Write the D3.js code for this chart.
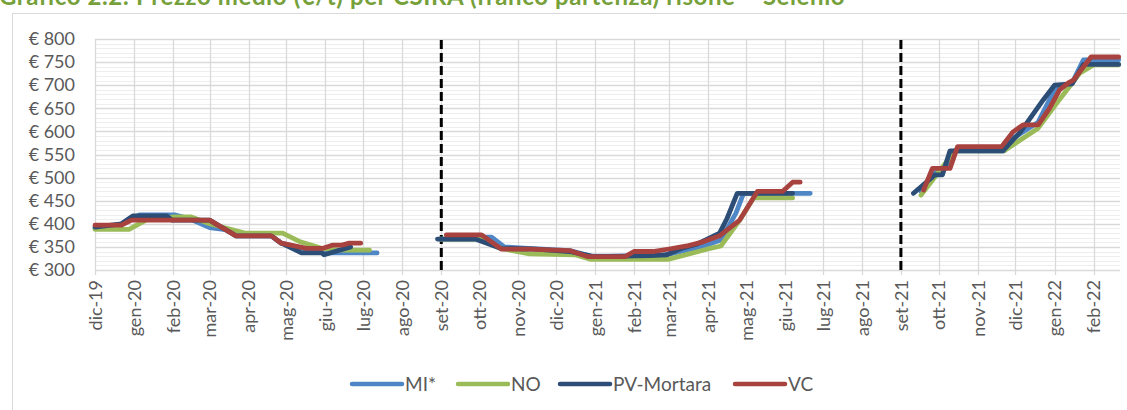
<!DOCTYPE html>
<meta charset="utf-8" />
<style>
    body { margin: 0; background: #fff; }
    text { font-family: Lato, sans-serif; fill: #595959; }
    .title { font-weight: bold; fill: #76a03a; }
    .series { fill: none; stroke-width: 4.8; stroke-linejoin: round; stroke-linecap: round; }
</style>
<svg width="1127" height="410"></svg>
<script src="https://d3js.org/d3.v7.min.js"></script>
<script>
// categories / ticks
const monthLabels = ['dic-19', 'gen-20', 'feb-20', 'mar-20', 'apr-20', 'mag-20', 'giu-20', 'lug-20', 'ago-20',
    'set-20', 'ott-20', 'nov-20', 'dic-20', 'gen-21', 'feb-21', 'mar-21', 'apr-21', 'mag-21', 'giu-21',
    'lug-21', 'ago-21', 'set-21', 'ott-21', 'nov-21', 'dic-21', 'gen-22', 'feb-22'];
const yTicks = [300, 350, 400, 450, 500, 550, 600, 650, 700, 750, 800];
const seriesNames = ['MI*', 'NO', 'PV-Mortara', 'VC'];
const dividerDates = ['2020-09-01', '2021-09-01'];

// weekly prices (€/t); null = no quotation (gap)
const miValues = [
    ['2019-12-01', 390], ['2019-12-22', 398], ['2020-01-05', 419], ['2020-02-03', 419], ['2020-02-15', 410],
    ['2020-03-01', 392], ['2020-03-15', 387], ['2020-03-22', 374], ['2020-04-19', 374], ['2020-04-27', 358],
    ['2020-05-17', 345], ['2020-05-31', 337], ['2020-07-12', 337], null,
    ['2020-08-31', 367], ['2020-09-28', 367], ['2020-10-05', 371], ['2020-10-11', 371], ['2020-10-21', 350],
    ['2020-11-02', 348], ['2020-12-12', 342], ['2020-12-29', 330], ['2021-02-22', 330], ['2021-03-26', 350],
    ['2021-04-11', 365], ['2021-04-23', 423], ['2021-04-29', 466], ['2021-06-21', 466], null,
    ['2021-09-17', 470], ['2021-09-26', 510], ['2021-10-04', 512], ['2021-10-14', 558], ['2021-11-22', 558],
    ['2021-11-29', 585], ['2021-12-19', 620], ['2022-01-01', 690], ['2022-01-15', 705], ['2022-01-24', 755],
    ['2022-02-21', 755]
];
const noValues = [
    ['2019-12-01', 388], ['2019-12-28', 388], ['2020-01-12', 410], ['2020-02-03', 415], ['2020-02-15', 415],
    ['2020-03-01', 400], ['2020-03-29', 380], ['2020-04-28', 380], ['2020-05-12', 361], ['2020-05-29', 347],
    ['2020-06-12', 343], ['2020-07-06', 343], null,
    ['2020-08-31', 367], ['2020-10-02', 367], ['2020-10-18', 347], ['2020-11-10', 335], ['2020-12-16', 333],
    ['2020-12-29', 323], ['2021-02-28', 323], ['2021-03-31', 345], ['2021-04-11', 352], ['2021-04-26', 408],
    ['2021-05-07', 456], ['2021-06-07', 456], null,
    ['2021-09-17', 462], ['2021-10-14', 558], ['2021-11-22', 558], ['2021-12-19', 607], ['2022-01-01', 655],
    ['2022-01-21', 726], ['2022-02-01', 744], ['2022-02-21', 744]
];
const pvValues = [
    ['2019-12-01', 393], ['2019-12-22', 400], ['2019-12-31', 417], ['2020-01-27', 417], ['2020-01-31', 408],
    ['2020-03-01', 408], ['2020-03-22', 374], ['2020-04-19', 374], ['2020-04-27', 358], ['2020-05-13', 337],
    ['2020-05-29', 337], ['2020-05-31', 333], ['2020-06-21', 350], null,
    ['2020-08-29', 367], ['2020-09-28', 367], ['2020-10-18', 347], ['2020-11-15', 345], ['2020-12-12', 340],
    ['2020-12-31', 329], ['2021-02-14', 331], ['2021-02-27', 333], ['2021-03-12', 348], ['2021-03-23', 356],
    ['2021-04-10', 380], ['2021-04-16', 412], ['2021-04-24', 466], ['2021-06-07', 466], null,
    ['2021-09-11', 466], ['2021-09-28', 506], ['2021-10-04', 506], ['2021-10-10', 558], ['2021-11-21', 558],
    ['2021-12-05', 599], ['2021-12-23', 668], ['2022-01-01', 700], ['2022-01-15', 703], ['2022-01-24', 745],
    ['2022-02-21', 745]
];
const vcValues = [
    ['2019-12-01', 397], ['2019-12-22', 397], ['2019-12-30', 408], ['2020-03-01', 408], ['2020-03-22', 374],
    ['2020-04-19', 374], ['2020-04-27', 358], ['2020-05-17', 347], ['2020-05-30', 347], ['2020-06-07', 354],
    ['2020-06-14', 354], ['2020-06-20', 358], ['2020-06-29', 358], null,
    ['2020-09-05', 376], ['2020-10-03', 376], ['2020-10-19', 345], ['2020-11-10', 345], ['2020-12-12', 342],
    ['2020-12-26', 329], ['2021-01-25', 329], ['2021-02-01', 340], ['2021-02-16', 340], ['2021-03-02', 346],
    ['2021-03-15', 352], ['2021-03-28', 361], ['2021-04-10', 374], ['2021-04-26', 408], ['2021-05-10', 470],
    ['2021-05-30', 470], ['2021-06-07', 490], ['2021-06-13', 490], null,
    ['2021-09-19', 473], ['2021-09-26', 520], ['2021-10-10', 520], ['2021-10-16', 567], ['2021-11-20', 567],
    ['2021-11-29', 599], ['2021-12-07', 614], ['2021-12-19', 614], ['2021-12-28', 650], ['2022-01-05', 690],
    ['2022-01-12', 705], ['2022-01-16', 711], ['2022-01-30', 761], ['2022-02-21', 761]
];

const seriesValues = [miValues, noValues, pvValues, vcValues];
const colors = ['#4f86c6', '#9bbb59', '#2c4d75', '#a8423f'];

const parse = d3.timeParse('%Y-%m-%d');
const svg = d3.select('svg');

// title (cut by the top edge in the source)
svg.append('text')
    .attr('class', 'title')
    .attr('x', -1)
    .attr('y', 5)
    .style('font-size', '24px')
    .style('letter-spacing', '0.6px')
    .text('Grafico 2.2: Prezzo medio (€/t) per CSIRA (franco partenza) risone – Selenio');

// chart frame
svg.append('rect')
    .attr('x', 12.5).attr('y', 13.5)
    .attr('width', 1130).attr('height', 420)
    .attr('fill', 'none').attr('stroke', '#d9d9d9');

const x = d3.scaleTime()
    .domain([parse('2019-12-01'), parse('2022-02-22')])
    .range([95, 1120]);
const y = d3.scaleLinear().domain([300, 800]).range([270, 39]);

const monthDates = monthLabels.map((m, i) => d3.timeMonth.offset(parse('2019-12-01'), i));

const grid = svg.append('g');
// minor horizontal
grid.selectAll('.minor')
    .data(d3.range(310, 800, 10).filter(v => v % 50 !== 0))
    .enter().append('line')
    .attr('x1', 95).attr('x2', 1120)
    .attr('y1', d => Math.round(y(d)) + 0.5).attr('y2', d => Math.round(y(d)) + 0.5)
    .attr('stroke', '#eeeeee');
// major horizontal
grid.selectAll('.major')
    .data(yTicks)
    .enter().append('line')
    .attr('x1', 95).attr('x2', 1120)
    .attr('y1', d => Math.round(y(d)) + 0.5).attr('y2', d => Math.round(y(d)) + 0.5)
    .attr('stroke', '#d9d9d9').attr('stroke-width', 1.3);
// vertical month lines
grid.selectAll('.vline')
    .data(monthDates)
    .enter().append('line')
    .attr('x1', d => Math.round(x(d)) + 0.5).attr('x2', d => Math.round(x(d)) + 0.5)
    .attr('y1', 39).attr('y2', 275)
    .attr('stroke', '#d9d9d9').attr('stroke-width', 1.3);

// y axis labels
const yAxis = svg.append('g')
    .attr('transform', 'translate(95,0)')
    .call(d3.axisLeft(y).tickValues(yTicks).tickFormat(d => '€ ' + d).tickSize(0).tickPadding(20));
yAxis.select('.domain').remove();
yAxis.selectAll('text').style('font-size', '18px').style('font-family', 'Lato, sans-serif').attr('fill', '#595959');

// x axis labels
const xAxis = svg.append('g')
    .attr('transform', 'translate(0,270)')
    .call(d3.axisBottom(x).tickValues(monthDates).tickFormat((d, i) => monthLabels[i]).tickSize(0));
xAxis.select('.domain').remove();
xAxis.selectAll('text')
    .style('font-size', '18px').style('font-family', 'Lato, sans-serif').attr('fill', '#595959')
    .style('text-anchor', 'end')
    .attr('transform', 'rotate(-90)')
    .attr('x', -10).attr('y', 0).attr('dy', '0.35em');

// dashed dividers
svg.selectAll('.divider')
    .data(dividerDates)
    .enter().append('line')
    .attr('x1', d => x(parse(d))).attr('x2', d => x(parse(d)))
    .attr('y1', 40).attr('y2', 273)
    .attr('stroke', '#000').attr('stroke-width', 3).attr('stroke-dasharray', '9,4');

// series
const line = d3.line()
    .defined(d => d !== null)
    .x(d => x(parse(d[0])))
    .y(d => y(d[1]));

svg.selectAll('.series')
    .data(seriesValues)
    .enter().append('path')
    .attr('class', 'series')
    .attr('stroke', (d, i) => colors[i])
    .attr('d', line);

// legend
const legendX = [352, 458, 560, 735];
const legend = svg.selectAll('.legend')
    .data(seriesNames)
    .enter().append('g')
    .attr('transform', (d, i) => `translate(${legendX[i]},384)`);
legend.append('line')
    .attr('x1', 0).attr('x2', 50)
    .attr('stroke', (d, i) => colors[i])
    .attr('stroke-width', 4.5).attr('stroke-linecap', 'round');
legend.append('text')
    .attr('x', 53).attr('y', 7)
    .style('font-size', '19px')
    .text(d => d);
</script>
